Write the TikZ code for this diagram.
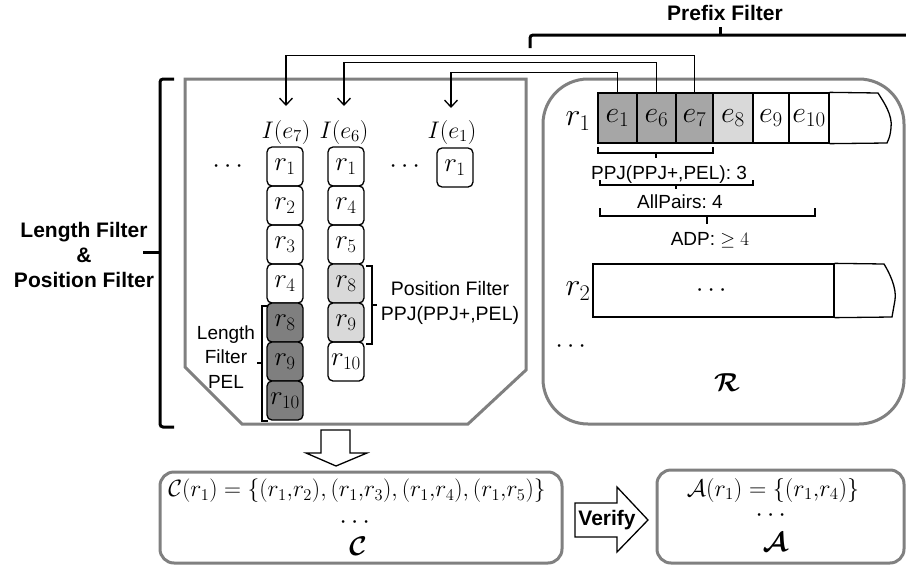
\RequirePackage{fix-cm}
\documentclass[tikz,border=0pt]{standalone}
\usepackage{amsmath,bm}
\usepackage{fontspec}
\setsansfont{Liberation Sans}
\usetikzlibrary{arrows.meta}
\definecolor{frame}{HTML}{808080}
\definecolor{darkcell}{HTML}{7F7F7F}
\definecolor{midcell}{HTML}{A6A6A6}
\definecolor{lightcell}{HTML}{D9D9D9}
\begin{document}
\begin{tikzpicture}[x=1pt,y=-1pt,
  container/.style={draw=frame,line width=3pt},
  rbox/.style={draw,line width=1.3pt,rounded corners=5pt,minimum width=36pt,minimum height=39pt,inner sep=0pt,font=\fontsize{27}{29}\selectfont},
  cell/.style={draw,line width=1.3pt,minimum height=50pt,inner sep=0pt,font=\fontsize{30}{32}\selectfont},
  mlab/.style={inner sep=0pt,font=\fontsize{24}{26}\selectfont},
  dots/.style={inner sep=0pt,font=\fontsize{26}{28}\selectfont},
  lab/.style={inner sep=0pt,align=center,font=\fontsize{19}{24.5}\selectfont\sffamily},
  blab/.style={inner sep=0pt,align=center,font=\fontsize{21}{25}\selectfont\sffamily\bfseries},
  bigbrk/.style={line width=3pt},
  smallbrk/.style={line width=1.3pt},
  link/.style={line width=1.3pt,-{Straight Barb[length=7pt,width=13pt,line width=1.3pt]}},
  hollow/.style={draw,line width=1.3pt,fill=white}]
\useasboundingbox (0,0) rectangle (906,568);

% Prefix filter bracket
\node[blab] (prefix) at (725,13) {Prefix Filter};
\draw[bigbrk,rounded corners=3pt] (530,48) -- (530,35) -- (910,35);
\draw[bigbrk] (720,35) -- (720,27);

% left big bracket
\draw[bigbrk,rounded corners=3pt] (174,79) -- (160,79) -- (160,427) -- (174,427);
\draw[bigbrk] (160,252) -- (143,252);
\node[blab] (lpf) at (84,255) {Length Filter\\\&\\Position Filter};

% left container
\draw[container] (185,79) -- (526,79) -- (526,370) -- (468,424) -- (242,424) -- (185,367) -- cycle;

% inverted list labels
\node[mlab] (Ie7) at (286,132) {$I(e_7)$};
\node[mlab] (Ie6) at (344,132) {$I(e_6)$};
\node[mlab] (Ie1) at (452,132) {$I(e_1)$};
\node[dots] (dl1) at (230,167) {$\cdots$};
\node[dots] (dl2) at (407,167) {$\cdots$};

% column e7
\node[rbox] (a1) at (285,166.5) {$r_1$};
\node[rbox] (a2) at (285,205.5) {$r_2$};
\node[rbox] (a3) at (285,244.5) {$r_3$};
\node[rbox] (a4) at (285,283.5) {$r_4$};
\node[rbox,fill=darkcell] (a5) at (285,322.5) {$r_8$};
\node[rbox,fill=darkcell] (a6) at (285,361.5) {$r_9$};
\node[rbox,fill=darkcell] (a7) at (285,400.5) {$r_{10}$};
% column e6
\node[rbox] (b1) at (346,166.5) {$r_1$};
\node[rbox] (b2) at (346,205.5) {$r_4$};
\node[rbox] (b3) at (346,244.5) {$r_5$};
\node[rbox,fill=lightcell] (b4) at (346,283.5) {$r_8$};
\node[rbox,fill=lightcell] (b5) at (346,322.5) {$r_9$};
\node[rbox] (b6) at (346,361.5) {$r_{10}$};
% column e1
\node[rbox] (c1) at (455,167.5) {$r_1$};

% length filter bracket
\draw[smallbrk] (268,306) -- (262,306) -- (262,421) -- (268,421);
\draw[smallbrk] (262,363) -- (257,363);
\node[lab] (lflab) at (226,357) {Length\\Filter\\PEL};
% position filter bracket
\draw[smallbrk] (366,266) -- (372,266) -- (372,344) -- (366,344);
\draw[smallbrk] (372,305) -- (377,305);
\node[lab,font=\fontsize{19.5}{25}\selectfont\sffamily] (pflab) at (450,302.5) {Position Filter\\PPJ(PPJ+,PEL)};

% right container
\draw[container,rounded corners=45pt] (543,79) rectangle (904,424);
\node[mlab,font=\fontsize{32}{34}\selectfont] (r1lab) at (578,121) {$r_1$};
\node[cell,fill=midcell,minimum width=39pt] (e1) at (617.5,118) {$e_1$};
\node[cell,fill=midcell,minimum width=39pt] (e6) at (656.5,118) {$e_6$};
\node[cell,fill=midcell,minimum width=37pt] (e7) at (694.5,118) {$e_7$};
\node[cell,fill=lightcell,minimum width=40pt] (e8) at (733,118) {$e_8$};
\node[cell,minimum width=36pt] (e9) at (771,118) {$e_9$};
\node[cell,minimum width=40pt] (e10) at (809,118) {$e_{10}$};
\draw[line width=1.3pt] (e10.north east) -- (878,93) .. controls (883,101) and (893,115) .. (891,128) .. controls (890,136) .. (887,143) -- (e10.south east);

% braces under r1
\draw[smallbrk] (598,147) -- (598,153) -- (713,153) -- (713,147);
\draw[smallbrk] (656,153) -- (656,158);
\node[lab] (ppj) at (669,175) {PPJ(PPJ+,PEL):~3};
\draw[smallbrk] (600,180) -- (600,185) -- (753,185) -- (753,180);
\draw[smallbrk] (676,185) -- (676,189);
\node[lab] (allp) at (680,202) {AllPairs:~4};
\draw[smallbrk] (600,208) -- (600,216) -- (815,216) -- (815,208);
\draw[smallbrk] (707,216) -- (707,224);
\node[lab] (adp) at (710,240) {ADP:~$\geq 4$};

% r2 row
\node[mlab,font=\fontsize{32}{34}\selectfont] (r2lab) at (578,291) {$r_2$};
\node[draw,line width=1.3pt,minimum width=241pt,minimum height=53pt,inner sep=0pt,font=\fontsize{26}{28}\selectfont] (r2row) at (713.5,290.5) {$\cdots$};
\draw[line width=1.3pt] (r2row.north east) -- (884,264) .. controls (889,272) and (897,288) .. (895,300) .. controls (894,308) .. (892,317) -- (r2row.south east);
\node[dots] (dr) at (573,347) {$\cdots$};
\node[mlab,font=\fontsize{26}{28}\selectfont] (Rlab) at (727,383) {$\bm{\mathcal{R}}$};

% arrows from prefix cells to inverted lists
\coordinate (t7) at (286,106);
\coordinate (t6) at (344,106);
\coordinate (t1) at (451,108);
\draw[link] (e7.north) -- ++(0,-37) -| (t7);
\draw[link] (e6.north) -- ++(0,-30) -| (t6);
\draw[link] (e1.north) -- ++(0,-20) -| (t1);

% down hollow arrow
\draw[hollow] (321,430) -- (350,430) -- (350,453) -- (367,453) -- (336,466) -- (306,453) -- (321,453) -- cycle;

% candidate box
\node[container,rounded corners=14pt,minimum width=402pt,minimum height=91pt] (Cbox) at (361,517.5) {};
\node[mlab,font=\fontsize{23.5}{25}\selectfont] (Ctext) at (357,491) {$\mathcal{C}(r_1)=\{(r_1{,}r_2),(r_1{,}r_3),(r_1{,}r_4),(r_1{,}r_5)\}$};
\node[dots] (Cdots) at (357,523) {$\cdots$};
\node[mlab,font=\fontsize{27}{29}\selectfont] (Clab) at (358,546) {$\bm{\mathcal{C}}$};

% verify arrow
\draw[hollow] (575,503) -- (617,503) -- (617,487) -- (648,520) -- (617,552) -- (617,537) -- (575,537) -- cycle;
\node[blab] (verify) at (607,520) {Verify};

% answer box
\node[container,rounded corners=14pt,minimum width=247pt,minimum height=93pt] (Abox) at (780.5,516.5) {};
\node[mlab,font=\fontsize{24}{26}\selectfont] (Atext) at (773,490) {$\mathcal{A}(r_1)=\{(r_1{,}r_4)\}$};
\node[dots] (Adots) at (773,516) {$\cdots$};
\node[mlab,font=\fontsize{27}{29}\selectfont] (Alab) at (775,542) {$\bm{\mathcal{A}}$};
\end{tikzpicture}
\end{document}
